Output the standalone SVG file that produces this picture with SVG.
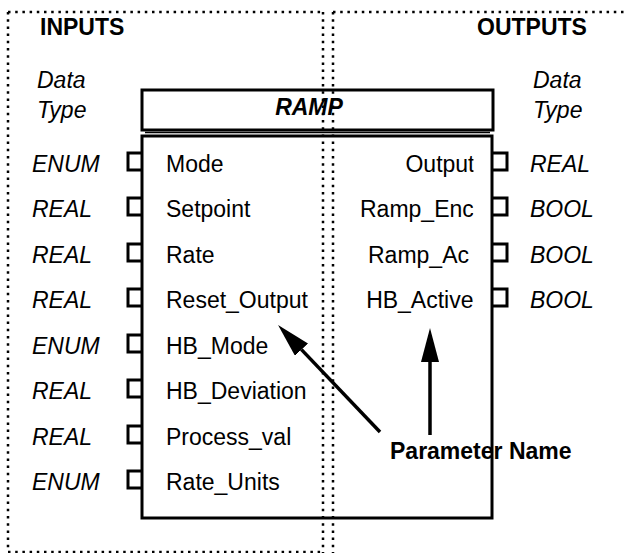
<svg xmlns="http://www.w3.org/2000/svg" width="624" height="553" viewBox="0 0 624 553">
<style>
  text { font-family: "Liberation Sans", Arial, sans-serif; fill: #000; }
  .hd { font-size: 23px; font-weight: bold; }
  .ty { font-size: 23px; font-style: italic; }
  .pn { font-size: 23px; }
  .ti { font-size: 23px; font-weight: bold; font-style: italic; }
  .dot { fill: none; stroke: #000; stroke-width: 2.5; stroke-dasharray: 2.5 4.7; }
  .box { fill: #fff; stroke: #000; stroke-width: 3; }
  .pin { fill: none; stroke: #000; stroke-width: 3; }
  .arr { fill: none; stroke: #000; stroke-width: 3.5; }
</style>
<defs>
  <marker id="head" markerUnits="userSpaceOnUse" viewBox="0 0 34 18" markerWidth="34" markerHeight="18" refX="0" refY="9" orient="auto">
    <path d="M0,0 L34,9 L0,18 Z" fill="#000"/>
  </marker>
  <clipPath id="outclip"><rect x="330" y="140" width="143.5" height="200"/></clipPath>
</defs>
<rect width="624" height="553" fill="#fff"/>

<g id="inputs-panel">
  <path class="dot" d="M8,12 H323 M8,12 V552 H323"/>
  <text class="hd" x="40" y="35">INPUTS</text>
  <text class="ty" x="37" y="88">Data</text>
  <text class="ty" x="37" y="118">Type</text>
</g>

<g id="outputs-panel">
  <path class="dot" d="M333,12 H624"/>
  <text class="hd" x="477" y="35">OUTPUTS</text>
  <text class="ty" x="533" y="88">Data</text>
  <text class="ty" x="533" y="118">Type</text>
</g>

<g id="ramp-block">
  <rect class="box" x="142" y="90" width="351" height="40"/>
  <line x1="145" y1="132.5" x2="490" y2="132.5" stroke="#000" stroke-width="1.5"/>
  <rect class="box" x="142" y="136" width="350" height="382"/>
  <text class="ti" x="309" y="115" text-anchor="middle">RAMP</text>
</g>

<g id="input-pins">
  <path class="pin" d="M141,153 H128 V170 H141"/>
  <path class="pin" d="M141,198 H128 V215 H141"/>
  <path class="pin" d="M141,244 H128 V261 H141"/>
  <path class="pin" d="M141,289 H128 V306 H141"/>
  <path class="pin" d="M141,335 H128 V352 H141"/>
  <path class="pin" d="M141,380 H128 V397 H141"/>
  <path class="pin" d="M141,426 H128 V443 H141"/>
  <path class="pin" d="M141,471 H128 V488 H141"/>
</g>

<g id="input-types">
  <text class="ty" x="32" y="172">ENUM</text>
  <text class="ty" x="32" y="217">REAL</text>
  <text class="ty" x="32" y="263">REAL</text>
  <text class="ty" x="32" y="308">REAL</text>
  <text class="ty" x="32" y="354">ENUM</text>
  <text class="ty" x="32" y="399">REAL</text>
  <text class="ty" x="32" y="445">REAL</text>
  <text class="ty" x="32" y="490">ENUM</text>
</g>

<g id="input-names">
  <text class="pn" x="166" y="172">Mode</text>
  <text class="pn" x="166" y="217">Setpoint</text>
  <text class="pn" x="166" y="263">Rate</text>
  <text class="pn" x="166" y="308">Reset_Output</text>
  <text class="pn" x="166" y="354">HB_Mode</text>
  <text class="pn" x="166" y="399">HB_Deviation</text>
  <text class="pn" x="166" y="445">Process_val</text>
  <text class="pn" x="166" y="490">Rate_Units</text>
</g>

<g id="output-pins">
  <path class="pin" d="M492,153 H507 V170 H492"/>
  <path class="pin" d="M492,198 H507 V215 H492"/>
  <path class="pin" d="M492,244 H507 V261 H492"/>
  <path class="pin" d="M492,289 H507 V306 H492"/>
</g>

<g id="output-names" clip-path="url(#outclip)">
  <text class="pn" x="474.5" y="172" text-anchor="end">Output</text>
  <text class="pn" x="360" y="217">Ramp_Enc</text>
  <text class="pn" x="368" y="263">Ramp_Ac</text>
  <text class="pn" x="473.5" y="308" text-anchor="end">HB_Active</text>
</g>

<g id="output-types">
  <text class="ty" x="530" y="172">REAL</text>
  <text class="ty" x="530" y="217">BOOL</text>
  <text class="ty" x="530" y="263">BOOL</text>
  <text class="ty" x="530" y="308">BOOL</text>
</g>

<g id="divider">
  <path class="dot" d="M323,12 V553 M333,12 V553"/>
</g>

<g id="connectors">
  <line class="arr" x1="380" y1="432" x2="301.5" y2="349.6" marker-end="url(#head)"/>
  <line class="arr" x1="430" y1="435" x2="430" y2="362" marker-end="url(#head)"/>
</g>

<g id="annotation">
  <text class="hd" x="390" y="459">Parameter Name</text>
</g>
</svg>
